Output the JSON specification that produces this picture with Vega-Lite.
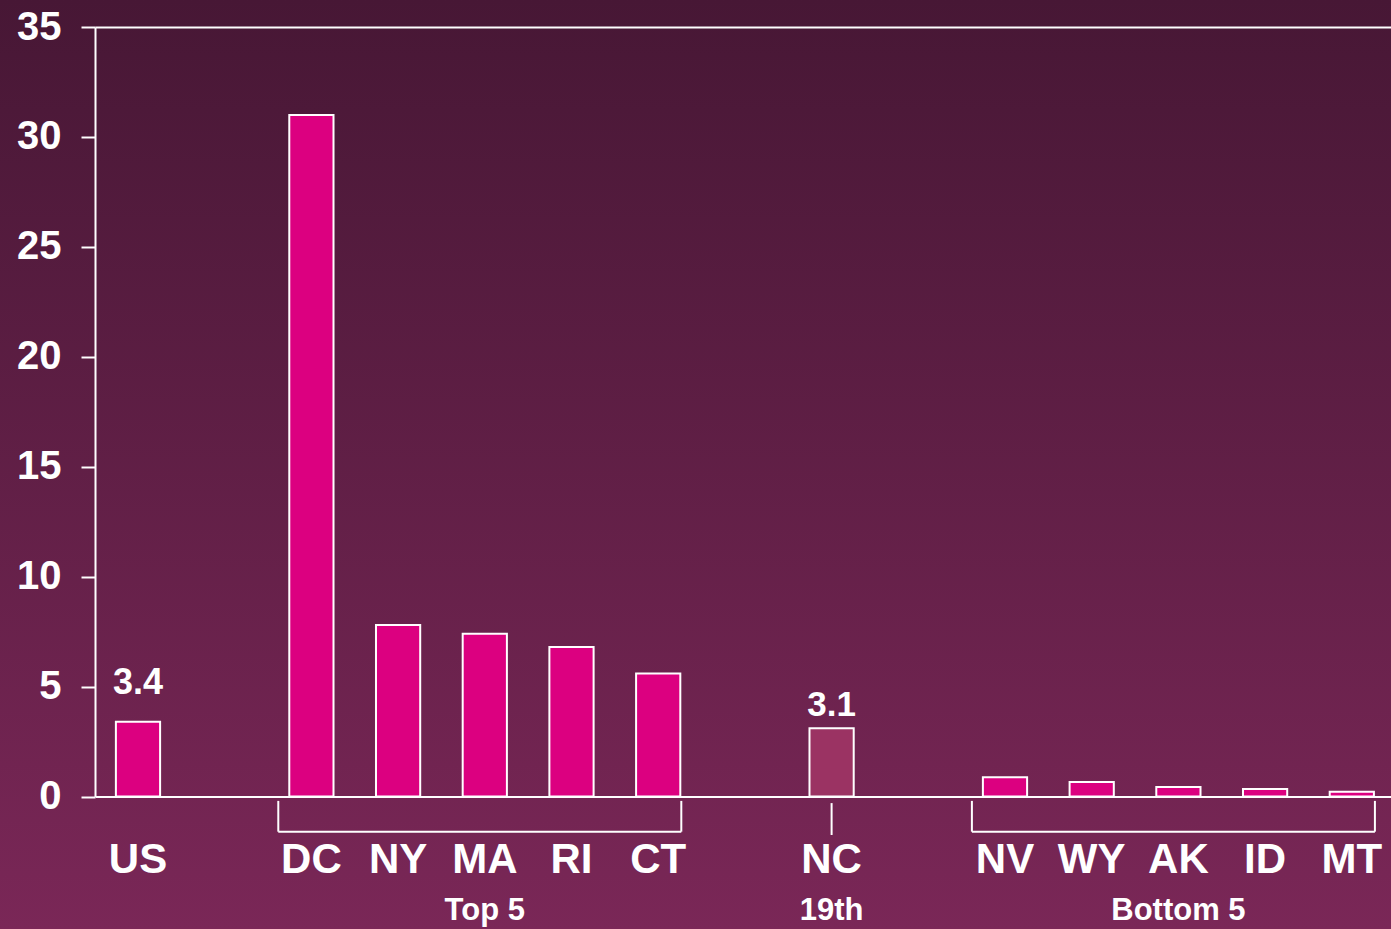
{
  "$schema": "https://vega.github.io/schema/vega-lite/v6.json",
  "width": 1391,
  "height": 929,
  "autosize": {"type": "none"},
  "padding": 0,
  "background": "#5f1f45",
  "config": {
    "view": {"stroke": null, "fill": {"gradient": "linear", "x1": 0, "y1": 0, "x2": 0, "y2": 1, "stops": [{"offset": 0, "color": "#471735"}, {"offset": 1, "color": "#7a2757"}]}},
    "font": "Liberation Sans"
  },
  "datasets": {
    "bars": [
      {"state": "US", "value": 3.4},
      {"state": "DC", "value": 31.0},
      {"state": "NY", "value": 7.8},
      {"state": "MA", "value": 7.4},
      {"state": "RI", "value": 6.8},
      {"state": "CT", "value": 5.6},
      {"state": "NC", "value": 3.1},
      {"state": "NV", "value": 0.88},
      {"state": "WY", "value": 0.66},
      {"state": "AK", "value": 0.43},
      {"state": "ID", "value": 0.34},
      {"state": "MT", "value": 0.22}
    ],
    "groups": [
      {"group": "Top 5", "from": "DC", "to": "CT", "mid": "MA"},
      {"group": "19th", "from": "NC", "to": "NC", "mid": "NC"},
      {"group": "Bottom 5", "from": "NV", "to": "MT", "mid": "AK"}
    ]
  },
  "layer": [
    {
      "data": {"name": "bars"},
      "mark": {"type": "bar", "stroke": "white", "strokeWidth": 2},
      "encoding": {
        "x": {
          "field": "state", "type": "nominal",
          "scale": {"domain": ["US", "_1", "DC", "NY", "MA", "RI", "CT", "_2", "NC", "_3", "NV", "WY", "AK", "ID", "MT"], "range": [95, 1391], "paddingInner": 0.49, "paddingOuter": 0.219, "align": 0.55},
          "axis": {
            "title": null, "labelAngle": 0, "ticks": false, "grid": false,
            "offset": -132.5,
            "domainColor": "white", "domainWidth": 2,
            "labelColor": "white", "labelFontSize": 42, "labelFontWeight": "bold", "labelFont": "Liberation Sans",
            "labelBaseline": "alphabetic", "labelPadding": 76,
            "labelExpr": "slice(datum.label,0,1)=='_' ? '' : datum.label"
          }
        },
        "y": {
          "field": "value", "type": "quantitative",
          "scale": {"domain": [0, 35], "nice": false, "range": [796.5, 27]},
          "axis": {
            "title": null, "values": [0, 5, 10, 15, 20, 25, 30, 35],
            "offset": -95,
            "grid": true, "gridColor": "white", "gridWidth": 2,
            "gridOpacity": {"condition": {"test": "datum.value === 35", "value": 1}, "value": 0},
            "domainColor": "white", "domainWidth": 2,
            "tickColor": "white", "tickWidth": 2, "tickSize": 14,
            "labelColor": "white", "labelFontSize": 40, "labelFontWeight": "bold", "labelFont": "Liberation Sans",
            "labelPadding": 20
          }
        },
        "color": {
          "condition": {"test": "datum.state == 'NC'", "value": "#9b3363"},
          "value": "#dc0080"
        }
      }
    },
    {
      "data": {"name": "bars"},
      "transform": [{"filter": "datum.state == 'US'"}],
      "mark": {"type": "text", "color": "white", "fontSize": 36, "fontWeight": "bold", "baseline": "alphabetic", "dy": -28},
      "encoding": {
        "x": {"field": "state", "type": "nominal"},
        "y": {"field": "value", "type": "quantitative"},
        "text": {"field": "value", "type": "quantitative", "format": ".1f"}
      }
    },
    {
      "data": {"name": "bars"},
      "transform": [{"filter": "datum.state == 'NC'"}],
      "mark": {"type": "text", "color": "white", "fontSize": 35, "fontWeight": "bold", "baseline": "alphabetic", "dy": -12},
      "encoding": {
        "x": {"field": "state", "type": "nominal"},
        "y": {"field": "value", "type": "quantitative"},
        "text": {"field": "value", "type": "quantitative", "format": ".1f"}
      }
    },
    {
      "data": {"name": "groups"},
      "transform": [{"filter": "datum.from != datum.to"}],
      "mark": {"type": "rule", "color": "white", "strokeWidth": 2, "xOffset": -11, "x2Offset": 1},
      "encoding": {
        "x": {"field": "from", "type": "nominal", "bandPosition": 0},
        "x2": {"field": "to", "bandPosition": 1},
        "y": {"datum": -1.6}
      }
    },
    {
      "data": {"name": "groups"},
      "transform": [{"filter": "datum.from != datum.to"}],
      "mark": {"type": "rule", "color": "white", "strokeWidth": 2, "xOffset": -11},
      "encoding": {
        "x": {"field": "from", "type": "nominal", "bandPosition": 0},
        "y": {"datum": -0.2},
        "y2": {"datum": -1.6}
      }
    },
    {
      "data": {"name": "groups"},
      "transform": [{"filter": "datum.from != datum.to"}],
      "mark": {"type": "rule", "color": "white", "strokeWidth": 2, "xOffset": 1},
      "encoding": {
        "x": {"field": "to", "type": "nominal", "bandPosition": 1},
        "y": {"datum": -0.2},
        "y2": {"datum": -1.6}
      }
    },
    {
      "data": {"name": "groups"},
      "transform": [{"filter": "datum.from == datum.to"}],
      "mark": {"type": "rule", "color": "white", "strokeWidth": 2},
      "encoding": {
        "x": {"field": "from", "type": "nominal"},
        "y": {"datum": -0.3},
        "y2": {"datum": -1.75}
      }
    },
    {
      "data": {"name": "groups"},
      "mark": {"type": "text", "color": "white", "fontSize": 31, "fontWeight": "bold", "baseline": "alphabetic"},
      "encoding": {
        "x": {"field": "mid", "type": "nominal"},
        "y": {"datum": -5.6},
        "text": {"field": "group"}
      }
    }
  ]
}
